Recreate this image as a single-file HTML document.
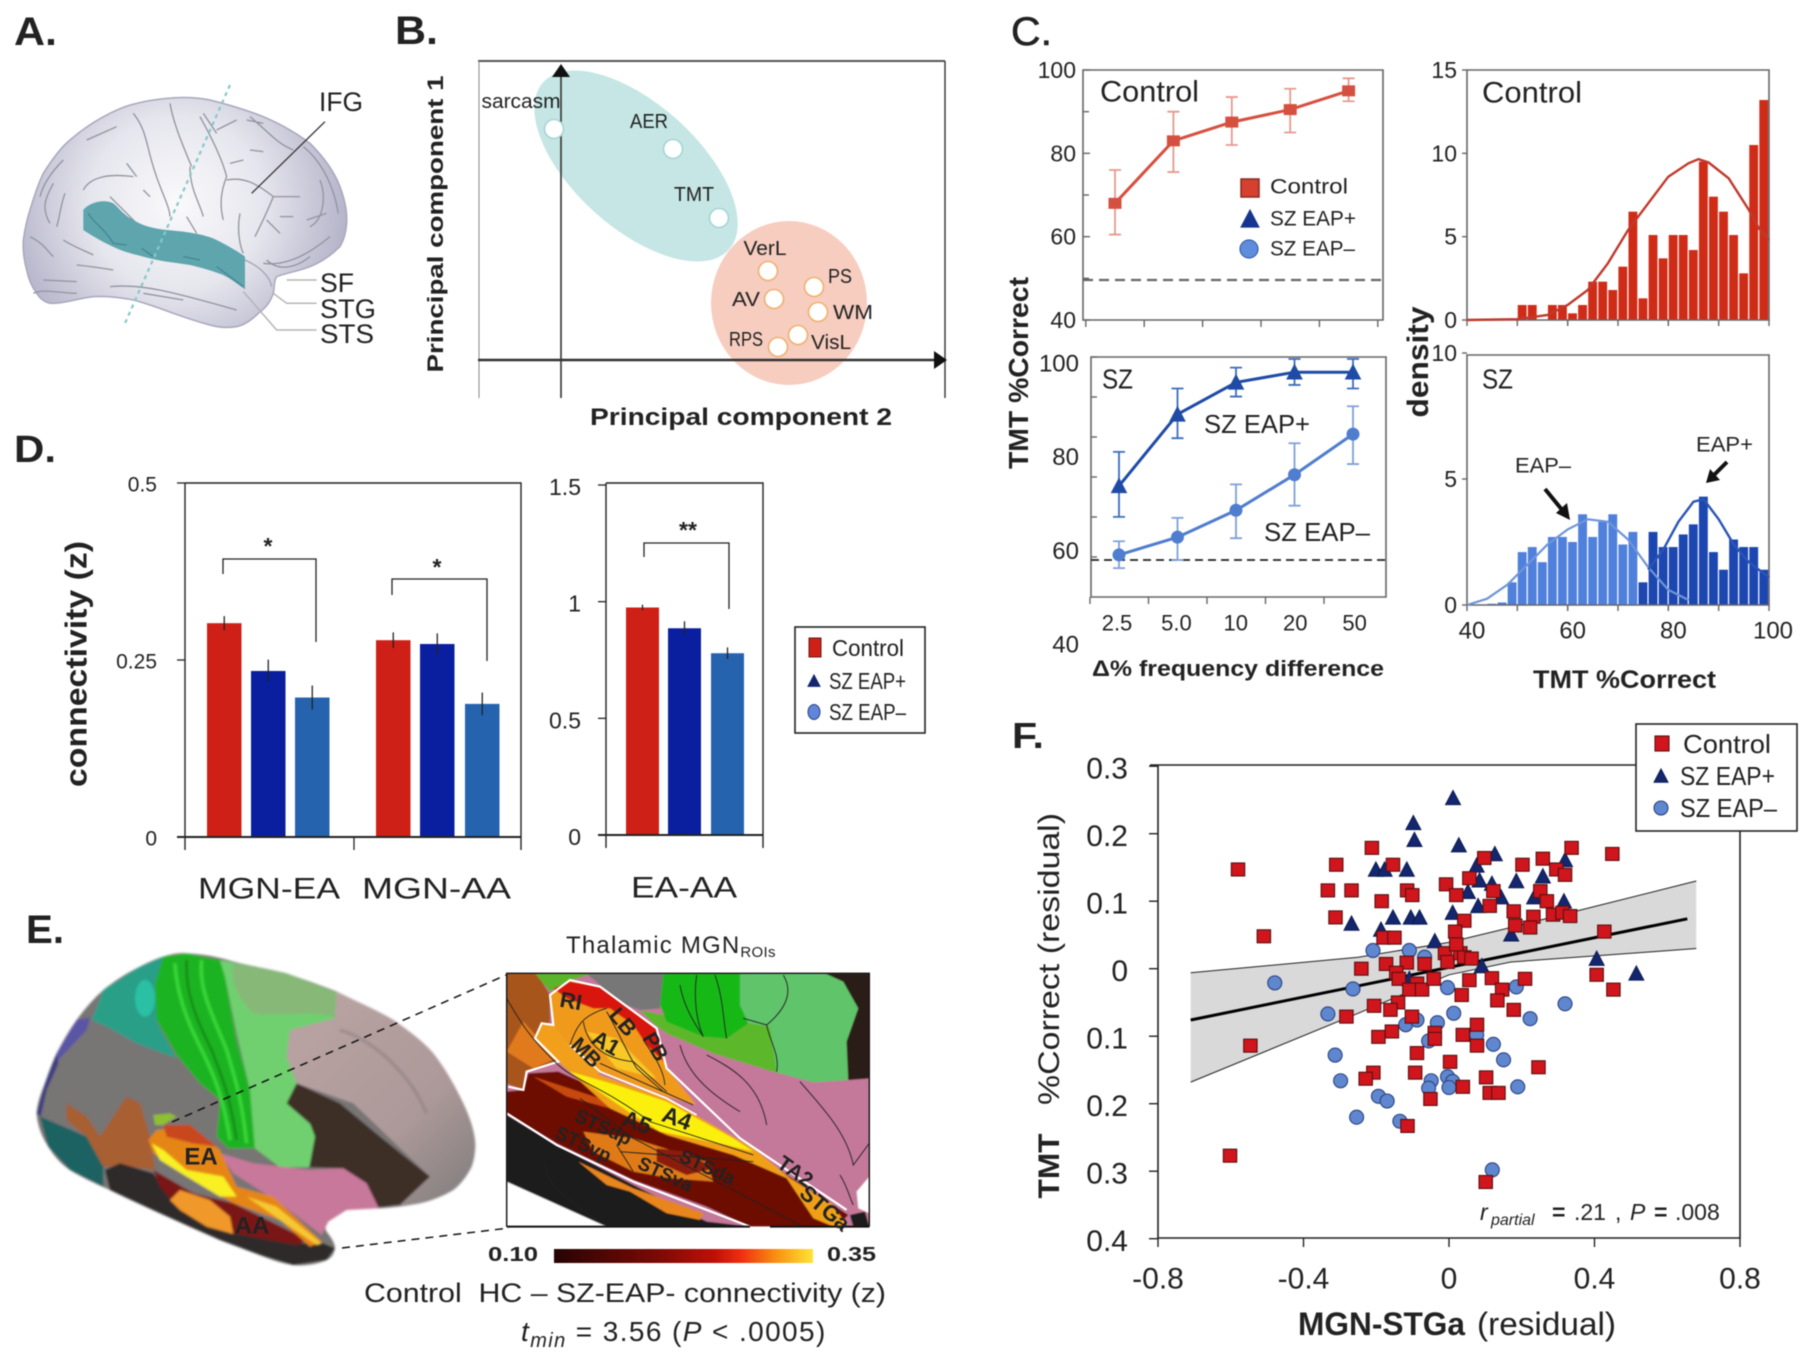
<!DOCTYPE html>
<html>
<head>
<meta charset="utf-8">
<title>Multi-panel figure</title>
<style>
html,body{margin:0;padding:0;background:#fff}
svg{display:block;font-family:"Liberation Sans",sans-serif;filter:blur(.55px)}
.ns{vector-effect:non-scaling-stroke}
text{fill:#222}
</style>
</head>
<body>
<svg id="fig" width="1800" height="1371" viewBox="0 0 1800 1371">
<defs>
<radialGradient id="brainGrad" gradientUnits="userSpaceOnUse" cx="500" cy="370" r="520">
<stop offset="0" stop-color="#fafafc"/><stop offset=".5" stop-color="#e6e6ee"/><stop offset="1" stop-color="#b4b2c8"/>
</radialGradient>
<linearGradient id="cbarGrad" x1="0" x2="1" y1="0" y2="0">
<stop offset="0" stop-color="#260404"/><stop offset=".4" stop-color="#7a0a05"/><stop offset=".62" stop-color="#bf1008"/><stop offset=".72" stop-color="#ef2d10"/><stop offset=".86" stop-color="#f99212"/><stop offset="1" stop-color="#ffe436"/>
</linearGradient>
<linearGradient id="pinkGrey" gradientUnits="userSpaceOnUse" x1="850" y1="250" x2="1350" y2="750">
<stop offset="0" stop-color="#b8a2a2"/><stop offset=".6" stop-color="#ad9999"/><stop offset="1" stop-color="#858080"/>
</linearGradient>
<clipPath id="insetClip"><rect x="20" y="25" width="1088" height="760"/></clipPath>
<filter id="softE" x="-5%" y="-5%" width="110%" height="110%"><feGaussianBlur stdDeviation="3"/></filter>
<filter id="softI" x="-5%" y="-5%" width="110%" height="110%"><feGaussianBlur stdDeviation="1.5"/></filter>
</defs>

<!-- panel letters -->
<text x="14" y="45" font-size="40" font-weight="bold" textLength="43" lengthAdjust="spacingAndGlyphs">A.</text>
<text x="395" y="44" font-size="40" font-weight="bold" textLength="43" lengthAdjust="spacingAndGlyphs">B.</text>
<text x="1011" y="45" font-size="40" textLength="41" lengthAdjust="spacingAndGlyphs" style="font-weight:500;stroke:#222;stroke-width:.6">C.</text>
<text x="14" y="462" font-size="38" font-weight="bold" textLength="42" lengthAdjust="spacingAndGlyphs">D.</text>
<text x="26" y="943" font-size="40" font-weight="bold" textLength="38" lengthAdjust="spacingAndGlyphs">E.</text>
<text x="1012" y="748" font-size="36" font-weight="bold" textLength="32" lengthAdjust="spacingAndGlyphs">F.</text>

<!-- Panel A -->
<g id="panel-a">
<g transform="translate(10,80) scale(.3333)">
<path class="ns" d="M470 55 C520 50 560 52 600 60 C660 75 710 90 760 110 C820 135 860 160 900 190 C945 235 975 280 990 320 C1005 360 1012 400 1010 430 C1008 460 1002 480 990 500 C960 530 930 548 900 560 C860 575 825 580 800 590 C790 605 795 620 790 640 C780 670 765 685 745 700 C725 720 705 735 680 740 C650 745 625 742 600 735 C560 725 525 712 490 700 C450 685 410 670 370 660 C330 652 290 648 250 650 C205 655 160 672 120 670 C100 665 90 655 80 640 C65 620 55 595 50 570 C42 540 38 510 40 480 C45 445 50 420 60 390 C72 350 85 310 100 280 C125 240 150 205 180 180 C220 145 260 120 300 100 C330 85 355 75 380 70 C410 62 440 58 470 55Z" fill="url(#brainGrad)" stroke="#a9a7bc" stroke-width="1.5"/>
<path class="ns" fill="none" stroke="#93939f" stroke-width="1.3" d="M480 70 C490 130 520 200 545 260 M370 100 C410 150 410 200 430 260 C450 330 480 380 480 410 M570 110 C620 200 640 250 650 290 C630 340 630 380 640 420 M220 330 C240 290 300 280 370 290 M350 250 L380 290 M300 350 C340 390 350 400 380 430 M400 330 L420 350 M540 260 C540 330 570 370 580 410 M650 300 C700 290 740 310 790 350 C770 400 750 440 735 470 M790 350 L870 350 M770 420 L810 460 M690 400 C680 450 690 500 700 520 M930 300 C950 350 940 420 900 440 M660 250 L700 240 M720 210 L760 215 M810 410 L850 410 M890 420 L950 400 M720 110 C780 160 800 190 850 210 M710 120 L760 130 M620 150 L680 120 M580 100 L620 160 M320 140 L230 180 M130 310 C110 350 90 380 120 430 M165 340 C150 380 150 410 140 440 M60 470 C100 490 110 510 130 530 M160 480 C190 500 220 510 250 525 M200 555 C250 560 280 565 310 570 M100 600 L200 605 M70 640 C100 625 150 640 200 640 M300 620 C400 610 500 640 680 690 M400 640 L520 660 M770 540 C800 570 850 570 900 530 M760 550 C830 560 900 520 960 470 M880 200 C930 240 970 310 985 400 M90 350 C100 310 130 270 160 240 M530 410 L560 460"/>
<path class="ns" fill="none" stroke="#a3a3b5" stroke-width="1.3" d="M705 540 C750 560 780 590 785 620"/>
<path d="M220 390 C235 370 280 355 310 370 C330 385 340 410 400 435 C440 450 480 450 520 455 C570 462 600 470 620 480 C650 495 685 515 705 530 L705 628 C680 610 660 595 640 585 C600 570 570 562 540 555 C500 548 460 545 420 535 C380 525 350 518 320 505 C285 490 250 470 220 450Z" fill="#5ea5ae"/>
<path class="ns" fill="none" stroke="#3f7f8a" stroke-width="1" d="M235 400 C250 430 280 440 310 490 M310 490 L350 495 M395 505 L430 530 M520 530 L570 540 M620 560 L700 620"/>
<line class="ns" x1="660" y1="15" x2="345" y2="730" stroke="#86c9c9" stroke-width="2.2" stroke-dasharray="4 4"/>
<line class="ns" x1="945" y1="125" x2="725" y2="340" stroke="#333" stroke-width="1.3"/>
<path class="ns" d="M830 600 H920" stroke="#b5b5b5" stroke-width="1.5" fill="none"/>
<path class="ns" d="M790 640 L830 670 H920" stroke="#b5b5b5" stroke-width="1.5" fill="none"/>
<path class="ns" d="M700 635 L800 750 H920" stroke="#b5b5b5" stroke-width="1.5" fill="none"/>
</g>
<text x="319" y="111" font-size="27" textLength="44" lengthAdjust="spacingAndGlyphs">IFG</text>
<text x="320" y="292" font-size="27" textLength="34" lengthAdjust="spacingAndGlyphs">SF</text>
<text x="320" y="318" font-size="27" textLength="56" lengthAdjust="spacingAndGlyphs">STG</text>
<text x="320" y="343" font-size="27" textLength="54" lengthAdjust="spacingAndGlyphs">STS</text>
</g>

<!-- Panel B static -->
<g id="panel-b">
<ellipse cx="636" cy="166" rx="125" ry="62" transform="rotate(42 636 166)" fill="#c5e6e4"/>
<ellipse cx="789" cy="303" rx="78" ry="82" fill="#f6cdbf"/>
<line x1="478" y1="61" x2="945" y2="61" stroke="#555" stroke-width="2"/>
<line x1="479" y1="61" x2="479" y2="398" stroke="#888" stroke-width="1"/>
<line x1="945" y1="61" x2="945" y2="398" stroke="#333" stroke-width="1.4"/>
<line x1="478" y1="360" x2="936" y2="360" stroke="#333" stroke-width="2.4"/>
<polygon points="934,351 947,360 934,369" fill="#111"/>
<line x1="561" y1="72" x2="561" y2="398" stroke="#333" stroke-width="1.6"/>
<polygon points="552,77 561,64 570,77" fill="#111"/>
<text x="443" y="224" font-size="22" font-weight="bold" text-anchor="middle" transform="rotate(-90 443 224)" textLength="297" lengthAdjust="spacingAndGlyphs">Principal component 1</text>
<text x="741" y="425" font-size="24" font-weight="bold" text-anchor="middle" textLength="302" lengthAdjust="spacingAndGlyphs">Principal component 2</text>
</g>

<!-- Panel E -->
<g id="panel-e">
<g transform="translate(20,940) scale(.3333)">
<g filter="url(#softE)">
<path d="M500 40 C550 42 600 52 640 65 C700 80 750 88 800 100 C850 118 900 135 950 155 C1010 185 1070 210 1120 240 C1170 275 1210 305 1240 340 C1275 385 1300 430 1320 470 C1345 520 1360 560 1365 600 C1368 630 1362 660 1355 680 C1340 710 1320 735 1300 750 C1270 768 1235 782 1200 790 C1160 798 1120 803 1080 805 C1045 807 1010 805 980 810 C955 818 935 830 925 845 C915 858 915 868 920 875 C935 895 945 910 945 925 C942 945 932 955 920 960 C885 975 850 978 820 975 C785 970 750 958 720 945 C680 930 640 915 600 900 C540 875 480 848 420 820 C370 798 320 775 270 750 C225 730 185 712 150 690 C120 670 100 645 85 620 C65 590 52 555 50 520 C52 490 62 460 75 430 C85 400 95 370 110 340 C128 305 148 270 170 240 C195 205 222 175 250 150 C282 125 315 102 350 85 C378 70 405 58 430 50 C455 42 480 38 500 40Z" fill="#787474"/>
<path d="M110 340 L170 240 L210 232 L200 270 L110 365Z" fill="#5a55a5"/>
<path d="M50 520 L75 430 L110 340 L115 370 L80 450 L62 530Z" fill="#3e3e80"/>
<path d="M215 240 L250 150 L350 85 L430 50 L405 130 L410 245 L470 355 L350 310 L260 260Z" fill="#2a9f88"/>
<ellipse cx="375" cy="175" rx="30" ry="55" fill="#2cc0a4"/>
<path d="M430 50 L500 40 L600 60 L615 110 L650 300 L690 450 L705 625 L625 625 L590 590 L600 480 L540 430 L470 345 L410 240 L405 130Z" fill="#1fb320"/>
<path class="ns" fill="none" stroke="#38d838" stroke-width="3.5" d="M465 70 C470 160 500 240 540 320 C580 400 610 470 630 600 M545 60 C535 150 580 230 620 330 C650 430 665 480 680 610"/>
<path class="ns" fill="none" stroke="#148a18" stroke-width="2.5" d="M500 60 C495 160 530 240 575 330 C610 420 630 470 650 600"/>
<path d="M600 60 L800 100 L950 158 L945 235 L810 270 L800 350 L830 430 L800 490 L890 570 L870 682 L780 682 L705 625 L690 450 L650 280 L615 110Z" fill="#70d070"/>
<path d="M640 70 L800 100 L950 160 L945 232 C880 210 780 230 700 220 C650 170 630 120 640 70Z" fill="#87b878"/>
<path d="M950 155 C1010 185 1070 210 1120 240 C1170 275 1210 305 1240 340 C1275 385 1300 430 1320 470 C1345 520 1360 560 1365 600 C1368 630 1362 660 1355 680 C1340 710 1320 735 1300 750 C1270 768 1235 782 1190 792 L1110 800 L1230 710 L1000 490 L830 430 L800 350 L810 270 L945 235Z" fill="url(#pinkGrey)"/>
<path class="ns" fill="none" stroke="#8e8080" stroke-width="4" opacity=".5" d="M960 270 C1060 300 1170 400 1220 520"/>
<path d="M600 640 L700 670 L870 690 L970 685 L1040 730 L1080 805 L980 810 L925 845 L905 885 L780 790 L640 700Z" fill="#c8789a"/>
<path d="M830 430 L960 490 L1080 590 L1230 710 L1140 795 L1075 802 L1040 730 L970 685 L868 682 L885 590 L870 550 L800 490Z" fill="#3c2f27"/>
<path d="M60 530 L130 560 L200 590 L250 680 L250 740 L150 690 L85 620Z" fill="#1f6262"/>
<path d="M140 490 L200 530 L240 590 L320 470 L360 490 L390 590 L405 690 L330 680 L250 680 L200 590 L140 540Z" fill="#a85e33"/>
<path d="M255 690 L300 670 L400 700 L460 790 L640 880 L830 910 L910 910 L945 925 L920 960 L820 975 L720 945 L600 900 L420 820 L270 750Z" fill="#2e2a2c"/>
<path d="M400 690 L520 760 L640 790 L865 900 L830 915 L640 880 L460 790 L420 740Z" fill="#7a1216"/>
<path d="M450 780 L480 750 L570 780 L630 830 L640 882 L560 860 L480 810Z" fill="#f0982a"/>
<path d="M410 570 L510 560 L600 630 L650 740 L760 770 L905 905 L870 920 L780 840 L640 790 L520 720 L400 640 L385 600Z" fill="#e58515"/>
<path d="M430 555 L510 555 L590 620 L520 610 L440 590Z" fill="#c9471a"/>
<path d="M395 610 L430 630 L500 690 L610 710 L650 770 L600 770 L500 710 L420 660Z" fill="#f8f020"/>
<path d="M680 770 L770 800 L905 910 L890 915 L780 840Z" fill="#f5c830"/>
<path d="M400 525 L450 520 L470 530 L430 555 L405 555Z" fill="#8fc030"/>
</g>
</g>
<line x1="172" y1="1122" x2="506" y2="975" stroke="#111" stroke-width="1.5" stroke-dasharray="8 6"/>
<line x1="342" y1="1248" x2="509" y2="1228" stroke="#111" stroke-width="1.5" stroke-dasharray="8 6"/>
<g transform="translate(500,965) scale(.3333)">
<g clip-path="url(#insetClip)">
<g filter="url(#softI)">
<rect x="20" y="25" width="1088" height="760" fill="#c4789a"/>
<path d="M20 25 L110 25 L150 90 L150 170 L105 220 L175 290 L80 320 L70 375 L20 355Z" fill="#a8551f"/>
<path d="M70 170 L170 280 L100 310 L20 260Z" fill="#e07a1c"/>
<path d="M105 25 L285 25 L210 45 L150 80Z" fill="#5ab52a"/>
<path d="M260 25 L490 25 L480 130 L420 135 L350 110 L300 60Z" fill="#777"/>
<path d="M420 135 L490 150 L610 215 L680 220 L745 175 L810 180 L835 325 L640 265 L500 205 L460 175Z" fill="#5cb82a"/>
<path d="M490 25 L730 25 L720 120 L745 175 L680 220 L610 215 L500 170 L480 120Z" fill="#15b815"/>
<path d="M720 25 L1030 25 L1075 130 L1040 230 L1045 345 L940 352 L830 322 L810 185 L745 175 L720 120Z" fill="#5fc46a"/>
<path d="M975 25 L1108 25 L1108 340 L1045 345 L1040 230 L1075 130 L1030 50Z" fill="#2a1e18"/>
<path d="M1108 635 L1070 680 L1075 730 L1108 745Z" fill="#fff"/>
<path d="M1050 750 L1095 740 L1108 785 L1060 785Z" fill="#1f1a1a"/>
<path d="M20 650 L320 785 L20 785Z" fill="#fff"/>
<path d="M20 450 L170 540 L400 660 L620 770 L750 785 L320 785 L20 650Z" fill="#1f1f1f"/>
<path d="M20 380 L70 375 L85 325 L175 320 L400 420 L800 590 L1045 750 L1010 785 L750 785 L620 725 L400 645 L170 535 L20 445Z" fill="#6c0a06"/>
<path d="M235 590 L400 670 L610 745 L600 765 L500 745 L390 680 L320 660Z" fill="#e8851e"/>
<path d="M250 500 L400 520 L620 590 L640 650 L510 640 L400 620 L280 560Z" fill="#e07a18"/>
<path d="M470 550 L560 560 L640 610 L560 630 L470 590Z" fill="#8a1a0a"/>
<path d="M100 335 L300 400 L330 430 L200 395Z" fill="#c84a10"/>
<path d="M175 290 L300 330 L500 400 L760 550 L870 640 L1000 720 L1040 780 L1000 785 L940 760 L860 640 L700 570 L500 510 L330 430Z" fill="#f0a018"/>
<path d="M210 320 L350 360 L500 410 L700 520 L760 560 L680 540 L480 500 L400 450Z" fill="#fbf00c"/>
<path d="M150 90 L210 45 L300 65 L470 190 L500 310 L590 420 L500 395 L300 320 L210 240 L160 180Z" fill="#f09a1c"/>
<path d="M160 70 L210 50 L300 65 L470 190 L490 290 L440 240 L400 180 L330 130 L280 130 L200 100Z" fill="#d8120c"/>
<path d="M260 200 L350 220 L470 340 L350 310Z" fill="#f8c828"/>
<path d="M105 220 L125 175 L160 180 L210 240 L300 320 L280 340 L175 290Z" fill="#f2a01c"/>
</g>
<path class="ns" fill="none" stroke="#fff" stroke-width="2.2" d="M25 365 L70 375 L80 320 L175 290 L105 220 L125 175 L160 180 L150 90 L210 45 L300 65 L470 190 L500 310 L720 520 L1040 735"/>
<path class="ns" fill="none" stroke="#fff" stroke-width="1.8" d="M210 240 L300 320 L500 400 L590 450"/>
<path class="ns" fill="none" stroke="#fff" stroke-width="2.2" d="M20 445 L170 540 L400 650 L750 785"/>
<path class="ns" fill="none" stroke="#222" stroke-width=".9" d="M20 100 C60 170 90 220 175 300 C230 350 300 360 450 470 L760 570 M210 240 C230 180 250 150 320 130 M250 170 C260 230 300 280 400 290 L500 380 M320 140 C350 190 380 260 410 310 L490 380 M430 225 C460 270 490 310 495 360 M300 295 L490 380 L580 420 M540 240 C560 320 620 380 720 440 M620 270 C700 310 780 360 800 480 M900 350 C960 420 1040 500 1060 600 L1108 535 M1020 630 C1040 660 1050 700 1060 720 M540 60 C550 120 580 170 610 215 M590 30 C580 100 590 170 610 215 M645 30 C670 100 670 170 680 220 M730 160 L800 180 C860 130 880 80 850 30 M800 180 C810 230 840 270 830 320 M350 540 L400 620 M360 560 L760 590 M240 400 L400 520 L900 780 M130 590 C150 640 130 660 300 770"/>
</g>
<path class="ns" fill="none" stroke="#111" stroke-width="1.4" d="M20 785 V25 H1108 V785"/>
<path class="ns" fill="none" stroke="#111" stroke-width="2" d="M20 785 H750 M810 785 H1108"/>
</g>
<g font-size="19" style="font-weight:600">
<text x="571" y="1001" text-anchor="middle" dominant-baseline="central" font-size="22" transform="rotate(10 571 1001)">RI</text>
<text x="623" y="1022" text-anchor="middle" dominant-baseline="central" font-size="22" transform="rotate(50 623 1022)">LB</text>
<text x="606" y="1043" text-anchor="middle" dominant-baseline="central" font-size="22" transform="rotate(30 606 1043)">A1</text>
<text x="586" y="1053" text-anchor="middle" dominant-baseline="central" font-size="21" transform="rotate(45 586 1053)">MB</text>
<text x="655" y="1047" text-anchor="middle" dominant-baseline="central" font-size="21" transform="rotate(60 655 1047)">PB</text>
<text x="677" y="1118" text-anchor="middle" dominant-baseline="central" font-size="23" transform="rotate(20 677 1118)">A4</text>
<text x="637" y="1122" text-anchor="middle" dominant-baseline="central" font-size="23" transform="rotate(20 637 1122)">A5</text>
<text x="603" y="1128" text-anchor="middle" dominant-baseline="central" transform="rotate(25 603 1128)">STSdp</text>
<text x="583" y="1145" text-anchor="middle" dominant-baseline="central" transform="rotate(25 583 1145)">STSvp</text>
<text x="707" y="1168" text-anchor="middle" dominant-baseline="central" transform="rotate(25 707 1168)">STSda</text>
<text x="665" y="1175" text-anchor="middle" dominant-baseline="central" transform="rotate(25 665 1175)">STSva</text>
<text x="795" y="1172" text-anchor="middle" dominant-baseline="central" font-size="21" transform="rotate(35 795 1172)">TA2</text>
<text x="825" y="1208" text-anchor="middle" dominant-baseline="central" font-size="22" transform="rotate(40 825 1208)">STGa</text>
</g>
<text x="201" y="1157" font-size="24" text-anchor="middle" dominant-baseline="central" style="font-weight:600">EA</text>
<text x="252" y="1226" font-size="24" text-anchor="middle" dominant-baseline="central" style="font-weight:600">AA</text>
<text x="566" y="953" font-size="24" fill="#333" letter-spacing="1.2">Thalamic MGN<tspan font-size="15" dy="4" letter-spacing=".3">ROIs</tspan></text>
<rect x="554" y="1249" width="259" height="14" fill="url(#cbarGrad)"/>
<text x="488" y="1261" font-size="20" font-weight="bold" textLength="50" lengthAdjust="spacingAndGlyphs">0.10</text>
<text x="827" y="1261" font-size="20" font-weight="bold" textLength="49" lengthAdjust="spacingAndGlyphs">0.35</text>
<text x="364" y="1302" font-size="27" fill="#333" textLength="522" lengthAdjust="spacingAndGlyphs">Control&#160;&#160;HC – SZ-EAP- connectivity (z)</text>
<text x="521" y="1341" font-size="28" fill="#222" letter-spacing="1.4"><tspan font-style="italic">t</tspan><tspan font-size="20" dy="6" font-style="italic">min</tspan><tspan dy="-6"> = 3.56 (</tspan><tspan font-style="italic">P</tspan><tspan> &lt; .0005)</tspan></text>
</g>

<!-- Panel C static text -->
<g id="panel-c">
<text x="1028" y="373" font-size="28" font-weight="bold" text-anchor="middle" transform="rotate(-90 1028 373)" textLength="192" lengthAdjust="spacingAndGlyphs">TMT %Correct</text>
<text x="1428" y="362" font-size="30" font-weight="bold" text-anchor="middle" transform="rotate(-90 1428 362)" textLength="111" lengthAdjust="spacingAndGlyphs">density</text>
<text x="1092" y="676" font-size="22" font-weight="bold" textLength="292" lengthAdjust="spacingAndGlyphs" fill="#333">Δ% frequency difference</text>
<text x="1533" y="688" font-size="25" font-weight="bold" textLength="183" lengthAdjust="spacingAndGlyphs" fill="#333">TMT %Correct</text>
</g>
<g id="c-line-top"></g>
<g id="c-line-bottom"></g>
<g id="c-hist-top"></g>
<g id="c-hist-bottom"></g>
<g id="b-points"></g>
<g id="d-chart"></g>
<g id="f-chart"></g>

<!-- Panel F static titles -->
<g>
<text x="1059" y="1166" font-size="30" font-weight="bold" text-anchor="middle" fill="#222" transform="rotate(-90 1059 1166)" textLength="65" lengthAdjust="spacingAndGlyphs">TMT</text>
<text x="1059" y="959" font-size="30" text-anchor="middle" fill="#333" transform="rotate(-90 1059 959)" textLength="292" lengthAdjust="spacingAndGlyphs">%Correct (residual)</text>
<text x="1298" y="1335" font-size="32" font-weight="bold" fill="#222" textLength="167" lengthAdjust="spacingAndGlyphs">MGN-STGa</text>
<text x="1477" y="1335" font-size="32" fill="#333" textLength="139" lengthAdjust="spacingAndGlyphs">(residual)</text>
<text y="1220" font-size="23" fill="#333"><tspan x="1480" font-style="italic">r</tspan><tspan x="1491" y="1225" font-size="16" font-style="italic">partial</tspan><tspan x="1552" y="1220" font-weight="bold">=</tspan><tspan x="1574">.21</tspan><tspan x="1615">,</tspan><tspan x="1630" font-style="italic">P</tspan><tspan x="1654" font-weight="bold">=</tspan><tspan x="1675">.008</tspan></text>
</g>

<script>
/* ---------- Panel B data ---------- */
const pcaTasks=['sarcasm','AER','TMT','VerL','PS','AV','WM','VisL','RPS'];
const pcaComp2=[-0.07,1.12,1.58,2.07,2.53,2.13,2.57,2.37,2.17];
const pcaComp1=[2.31,2.11,1.42,0.89,0.73,0.61,0.48,0.25,0.13];
const pcaGroup=['a','a','a','g','g','g','g','g','g'];

/* ---------- Panel C data ---------- */
const freqCategories=['2.5','5.0','10','20','50'];
const controlAcc=[68,83,87.5,90.5,95];
const controlLow=[60.5,75.5,82,85,92.5];
const controlHigh=[76,90,93.5,95.5,98];
const eapPlusAcc=[74.6,88.7,95,97,97];
const eapPlusLow=[68.5,84,92.2,94.5,93.8];
const eapPlusHigh=[81.3,93.8,97.9,99.6,99.6];
const eapMinusAcc=[61,64.5,69.8,76.8,84.8];
const eapMinusLow=[58.4,60,64.3,70.7,78.9];
const eapMinusHigh=[63.7,68.3,74.9,83,90.3];
const topLineTicks=[40,60,80,100];
const topLineMinorTicks=[50,70,90];
const bottomLineTicks=[40,60,80,100];

const controlBinStart=[50,52,54,56,58,60,62,64,66,68,70,72,74,76,78,80,82,84,86,88,90,92,94,96,98];
const controlDensity=[0.9,0.9,0,0.9,0.9,0.4,0.9,2.3,2.3,1.8,3.2,6.5,1.3,5.1,3.7,5.1,5.1,4.2,9.5,7.4,6.5,5.1,2.8,10.5,13.2];
const controlCurveX=[40,50,56,60,64,68,72,76,80,84,86,88,92,96,98,100];
const controlCurveY=[0,0.05,0.3,0.9,1.8,3.4,5.4,7,8.6,9.4,9.65,9.45,8.5,6.6,5.5,4.8];
const minusBinStart=[44,46,48,50,52,54,56,58,60,62,64,66,68,70,72];
const minusDensity=[0.05,0.1,0.9,2.1,2.3,1.7,2.7,2.7,2.5,3.6,2.7,3.3,3.6,2.4,2.9];
const plusBinStart=[74,76,78,80,82,84,86,88,90,92,94,96,98];
const plusDensity=[0.9,2.9,2.3,2.3,2.8,3.2,4.3,2.1,1.4,2.6,2.3,2.3,1.4];
const minusCurveX=[40,44,48,52,56,60,64,68,72,76,80,84];
const minusCurveY=[0,0.25,0.8,1.6,2.4,3,3.4,3.3,2.6,1.5,0.6,0.2];
const plusCurveX=[76,79,82,85,87,90,93,96,100];
const plusCurveY=[1.4,2.2,3.3,4.1,4.2,3.4,2.4,1.7,1.1];
const densityTicksTop=[0,5,10,15];
const densityTicksBottom=[0,5,10];
const scoreTicks=[40,60,80,100];

/* ---------- Panel D data ---------- */
const connGroups=['MGN-EA','MGN-AA'];
const connControl=[0.302,0.278];
const connPlus=[0.2345,0.2726];
const connMinus=[0.197,0.188];
const connControlErr=[0.01,0.011];
const connPlusErr=[0.016,0.015];
const connMinusErr=[0.017,0.016];
const connTicks=[{v:0,t:'0'},{v:0.25,t:'0.25'},{v:0.5,t:'0.5'}];
const eaAaValues=[0.975,0.886,0.779];
const eaAaErr=[0.012,0.03,0.025];
const eaAaTicks=[{v:0,t:'0'},{v:0.5,t:'0.5'},{v:1,t:'1'},{v:1.5,t:'1.5'}];

/* ---------- Panel F data ---------- */
const ctrlX=[-.58,-.31,-.212,-.154,-.333,-.268,-.115,-.101,-.185,-.312,-.509,-.18,-.15,-.173,-.241,-.116,-.145,-.067,-.138,-.088,-.109,-.074,-.042,-.011,-.004,.031,.042,.062,-.008,.02,.056,.097,.122,.112,.178,.202,.258,.295,.319,.337,.449,.251,.269,.286,.312,.333,.232,.223,.182,.042,.017,.02,.427,.406,.452,.209,.118,.146,.133,.178,.056,.035,-.102,-.14,-.161,-.206,-.282,-.194,-.157,-.039,.038,.077,.077,-.088,.003,-.093,-.208,-.229,.038,.102,.112,.136,.246,-.051,-.114,-.602,.101,-.546,-.039];
const ctrlY=[.147,.154,.179,.154,.116,.116,.116,.109,.1,.076,.048,.046,.046,.007,0,.009,-.006,.007,-.015,-.022,-.031,-.031,-.015,.023,.01,.023,.017,.015,.125,.109,.134,.164,.115,.093,.085,.154,.163,.147,.139,.179,.17,.115,.1,.08,.083,.078,.077,.061,.064,.071,.055,.036,.055,-.009,-.031,-.015,-.014,-.031,-.047,-.061,-.017,-.039,-.071,-.05,-.061,-.055,-.071,-.101,-.093,-.095,-.098,-.083,-.114,-.125,-.138,-.154,-.154,-.163,-.175,-.161,-.184,-.184,-.146,-.193,-.233,-.277,-.316,-.114,-.104];
const plusX=[.011,-.098,-.095,.027,.126,-.201,-.177,-.116,.076,.319,.258,.084,.185,.052,.118,.143,.234,.316,.08,.01,-.154,-.105,-.081,-.268,-.187,.171,-.039,.406,.515,.09,-.109];
const plusY=[.253,.216,.191,.183,.17,.147,.147,.147,.153,.161,.137,.131,.13,.114,.126,.106,.106,.1,.093,.083,.076,.076,.076,.067,.058,.051,.041,.015,-.007,.004,-.015];
const minusX=[-.479,-.264,-.333,-.209,-.109,-.067,-.004,.013,.185,.319,.223,-.119,-.088,-.032,-.056,.076,.122,.15,-.313,-.298,-.049,-.056,-.004,.01,0,.189,-.194,-.17,-.254,-.135,.119];
const minusY=[-.021,-.03,-.067,.027,.027,.017,-.028,-.066,-.027,-.052,-.074,-.083,-.076,-.08,-.107,-.098,-.112,-.135,-.128,-.166,-.166,-.177,-.16,-.167,-.176,-.175,-.189,-.196,-.22,-.226,-.298];
const fitX=[-.71,.655];
const fitY=[-.076,.074];
const bandX=[-.71,-.25,0,.17,.68];
const bandUpper=[-.006,.017,.039,.061,.13];
const bandLower=[-.168,-.066,-.009,.01,.03];
const fXTicks=[{v:-.8,t:'-0.8'},{v:-.4,t:'-0.4'},{v:0,t:'0'},{v:.4,t:'0.4'},{v:.8,t:'0.8'}];
const fYTicks=[{v:.3,t:'0.3'},{v:.2,t:'0.2'},{v:.1,t:'0.1'},{v:0,t:'0'},{v:-.1,t:'0.1'},{v:-.2,t:'0.2'},{v:-.3,t:'0.3'},{v:-.4,t:'0.4'}];

/* ---------- helpers ---------- */
const NS=document.getElementById('fig').namespaceURI;
function mk(tag,attrs,parent){
  const el=document.createElementNS(NS,tag);
  for(const k in attrs) el.setAttribute(k,attrs[k]);
  parent.appendChild(el);
  return el;
}
function tx(parent,x,y,str,size,anchor,extra){
  const el=mk('text',Object.assign({x:x,y:y,'font-size':size,'text-anchor':anchor||'start','dominant-baseline':'central'},extra||{}),parent);
  el.textContent=str;
  return el;
}
const linear=(d0,d1,r0,r1)=>v=>r0+(v-d0)/(d1-d0)*(r1-r0);
function errorBar(parent,x,yLow,yHigh,cap,color,w){
  const p=mk('path',{d:`M${x-cap} ${yLow}H${x+cap}M${x} ${yLow}V${yHigh}M${x-cap} ${yHigh}H${x+cap}`,fill:'none',stroke:color,'stroke-width':w},parent);
  return p;
}
function polyPath(xs,ys,sx,sy){
  return xs.map((v,i)=>(i?'L':'M')+sx(v).toFixed(1)+' '+sy(ys[i]).toFixed(1)).join('');
}
function triangle(parent,x,y,s,fill,stroke){
  return mk('polygon',{points:`${x-s},${y+s*.9} ${x},${y-s} ${x+s},${y+s*.9}`,fill:fill,stroke:stroke,'stroke-width':1},parent);
}

/* ---------- Panel B ---------- */
(function(){
  const g=document.getElementById('b-points');
  const px=linear(0,1,561,661), py=linear(0,1,360,260);
  pcaTasks.forEach((name,i)=>{
    const c=mk('circle',{cx:px(pcaComp2[i]),cy:py(pcaComp1[i]),r:9.5,fill:'#fff',stroke:pcaGroup[i]==='a'?'#a5d5d3':'#f0b070','stroke-width':1.6},g);
    
    
  });
  const labelOffsetX=[-33,-24,-25,-3,26,-28,35,33,-32];
  const labelOffsetY=[-27,-27,-23,-22,-10,1,1,8,-7];
  const labelWidths=[79,38,40,43,24,28,40,40,34];
  pcaTasks.forEach((name,i)=>{
    const t=tx(g,px(pcaComp2[i])+labelOffsetX[i],py(pcaComp1[i])+labelOffsetY[i],name,20,'middle',{fill:'#555',textLength:labelWidths[i],lengthAdjust:'spacingAndGlyphs'});
    
    
  });
})();

/* ---------- Panel C line charts ---------- */
function lineSeries(g,xf,yf,vals,lo,hi,color,errColor,marker){
  vals.forEach((v,i)=>{
    const e=errorBar(g,xf(i),yf(lo[i]),yf(hi[i]),6,errColor,1.8);
    
    
  });
  const line=mk('path',{d:vals.map((v,i)=>(i?'L':'M')+xf(i).toFixed(1)+' '+yf(v).toFixed(1)).join(''),fill:'none',stroke:color,'stroke-width':3},g);
  
  
  vals.forEach((v,i)=>{
    let m;
    if(marker==='square') m=mk('rect',{x:xf(i)-6.5,y:yf(v)-5.5,width:13,height:11,fill:color},g);
    else if(marker==='triangle') m=triangle(g,xf(i),yf(v),7.5,color,color);
    else m=mk('circle',{cx:xf(i),cy:yf(v),r:6.5,fill:color},g);
    
    
  });
}
(function(){
  const g=document.getElementById('c-line-top');
  const xf=i=>1115+i*58.4, yf=linear(40,100,320,70);
  const box=mk('path',{d:'M1083 70H1383V320H1083Z',fill:'none',stroke:'#666','stroke-width':1.6},g);
  
  
  const dash=mk('line',{x1:1083,x2:1383,y1:yf(49.6),y2:yf(49.6),stroke:'#666','stroke-width':2.2,'stroke-dasharray':'10 6'},g);
  
  
  topLineTicks.forEach(v=>{
    const t=tx(g,1076,yf(v),String(v),23,'end',{fill:'#333'});
    
    
    const k=mk('line',{x1:1083,x2:1090,y1:yf(v),y2:yf(v),stroke:'#666','stroke-width':1.4},g);
    
    
  });
  topLineMinorTicks.forEach(v=>{
    const k=mk('line',{x1:1083,x2:1089,y1:yf(v),y2:yf(v),stroke:'#666','stroke-width':1.4},g);
    
    
  });
  freqCategories.concat(['']).forEach((c,i)=>{
    const x=xf(i)-29.2;
    const k=mk('line',{x1:x,x2:x,y1:320,y2:327,stroke:'#666','stroke-width':1.4},g);
    
    
  });
  lineSeries(g,xf,yf,controlAcc,controlLow,controlHigh,'#d6503f','#e39a8e','square');
  const title=tx(g,1100,92,'Control',30,'start',{textLength:99,lengthAdjust:'spacingAndGlyphs',fill:'#333'});
  
  
  const s=mk('rect',{x:1241,y:179,width:18,height:18,fill:'#d6402f',stroke:'#8a2a20','stroke-width':1.5},g);
  
  
  const t2=triangle(g,1250,219,9,'#17358e','#17358e');
  
  
  const c3=mk('circle',{cx:1249,cy:249,r:9,fill:'#5f8ddd',stroke:'#3a5ea8','stroke-width':1.2},g);
  
  
  const l1=tx(g,1270,187,'Control',21,'start',{textLength:78,lengthAdjust:'spacingAndGlyphs',fill:'#333'});
  
  
  const l2=tx(g,1270,219,'SZ EAP+',21,'start',{textLength:86,lengthAdjust:'spacingAndGlyphs',fill:'#333'});
  
  
  const l3=tx(g,1270,249,'SZ EAP–',21,'start',{textLength:85,lengthAdjust:'spacingAndGlyphs',fill:'#333'});
  
  
})();
(function(){
  const g=document.getElementById('c-line-bottom');
  const xf=i=>1119+i*58.5, yf=linear(60,100,560,357);
  const labelY=linear(40,100,645,364);
  const box=mk('path',{d:'M1091 357H1386V597H1091Z',fill:'none',stroke:'#666','stroke-width':1.6},g);
  
  
  const dash=mk('line',{x1:1091,x2:1388,y1:yf(60),y2:yf(60),stroke:'#222','stroke-width':1.8,'stroke-dasharray':'8 5'},g);
  
  
  bottomLineTicks.forEach(v=>{
    const t=tx(g,1079,labelY(v),String(v),24,'end',{fill:'#333'});
    
    
  });
  [0,1,2,3,4,5].forEach(i=>{
    const k=mk('line',{x1:1091,x2:1097,y1:357+i*40,y2:357+i*40,stroke:'#666','stroke-width':1.4},g);
    
    
  });
  freqCategories.forEach((c,i)=>{
    const t=tx(g,xf(i)-2+i*.9,623,c,22,'middle',{fill:'#333'});
    
    
    const k=mk('line',{x1:xf(i)-29,x2:xf(i)-29,y1:597,y2:604,stroke:'#666','stroke-width':1.4},g);
    
    
  });
  lineSeries(g,xf,yf,eapMinusAcc,eapMinusLow,eapMinusHigh,'#4f7dcf','#7fa0d8','circle');
  lineSeries(g,xf,yf,eapPlusAcc,eapPlusLow,eapPlusHigh,'#1f4ba5','#3d6cbd','triangle');
  const a=tx(g,1102,379,'SZ',28,'start',{textLength:31,lengthAdjust:'spacingAndGlyphs',fill:'#333'});
  
  
  const b=tx(g,1204,424,'SZ EAP+',26,'start',{textLength:106,lengthAdjust:'spacingAndGlyphs',fill:'#333'});
  
  
  const c=tx(g,1264,532,'SZ EAP–',26,'start',{textLength:106,lengthAdjust:'spacingAndGlyphs',fill:'#333'});
  
  
})();

/* ---------- Panel C histograms ---------- */
function bars(g,starts,vals,xf,yf,color){
  starts.forEach((s,i)=>{
    const b=mk('rect',{x:xf(s)+.4,y:yf(vals[i]),width:xf(s+2)-xf(s)-1.2,height:yf(0)-yf(vals[i]),fill:color},g);
    
    
  });
}
function histFrame(g,x0,y0,y1,ticks,yf,xf){
  const box=mk('path',{d:`M${x0} ${y0}H1769V${y1}H${x0}Z`,fill:'none',stroke:'#666','stroke-width':1.6},g);
  
  
  ticks.forEach(v=>{
    const t=tx(g,1457,yf(v),String(v),23,'end',{fill:'#333'});
    
    
    const m=mk('line',{x1:x0-5,x2:x0,y1:yf(v),y2:yf(v),stroke:'#666','stroke-width':1.4},g);
    
    
  });
  scoreTicks.concat([50,60,70,80,90]).forEach(v=>{
    const k=mk('line',{x1:xf(v),x2:xf(v),y1:y1,y2:y1+6,stroke:'#666','stroke-width':1.4},g);
    
    
  });
}
(function(){
  const g=document.getElementById('c-hist-top');
  const xf=linear(40,100,1467,1769), yf=linear(0,15,320,70);
  bars(g,controlBinStart,controlDensity,xf,yf,'#cf2c18');
  histFrame(g,1467,70,320,densityTicksTop,yf,xf);
  const c=mk('path',{d:polyPath(controlCurveX,controlCurveY,xf,yf),fill:'none',stroke:'#c0392b','stroke-width':2.4},g);
  
  
  const t=tx(g,1482,93,'Control',30,'start',{textLength:100,lengthAdjust:'spacingAndGlyphs',fill:'#333'});
  
  
})();
(function(){
  const g=document.getElementById('c-hist-bottom');
  const xf=linear(40,100,1467,1769), yf=linear(0,10,605,353);
  bars(g,minusBinStart,minusDensity,xf,yf,'#4f80dc');
  bars(g,plusBinStart,plusDensity,xf,yf,'#1c46b0');
  histFrame(g,1467,355,605,densityTicksBottom,yf,xf);
  const c1=mk('path',{d:polyPath(minusCurveX,minusCurveY,xf,yf),fill:'none',stroke:'#6f95d8','stroke-width':2.2},g);
  
  
  const c2=mk('path',{d:polyPath(plusCurveX,plusCurveY,xf,yf),fill:'none',stroke:'#2a55b5','stroke-width':2.4},g);
  
  
  scoreTicks.forEach(v=>{
    const t=tx(g,xf(v)+(v===100?4:5),631,String(v),24,'middle',{fill:'#333'});
    
    
  });
  const a=tx(g,1482,379,'SZ',28,'start',{textLength:31,lengthAdjust:'spacingAndGlyphs',fill:'#333'});
  
  
  const b=tx(g,1515,466,'EAP–',21,'start',{textLength:56,lengthAdjust:'spacingAndGlyphs',fill:'#333'});
  
  
  const c=tx(g,1696,445,'EAP+',21,'start',{textLength:57,lengthAdjust:'spacingAndGlyphs',fill:'#333'});
  
  
  const ar1=mk('path',{d:'M1545 489L1563 511',stroke:'#111','stroke-width':4,fill:'none'},g);
  
  
  const ah1=mk('polygon',{points:'1570,520 1556,513 1567,503',fill:'#111'},g);
  
  
  const ar2=mk('path',{d:'M1727 462L1713 476',stroke:'#111','stroke-width':4,fill:'none'},g);
  
  
  const ah2=mk('polygon',{points:'1706,483 1710,469 1720,480',fill:'#111'},g);
  
  
})();

/* ---------- Panel D ---------- */
(function(){
  const g=document.getElementById('d-chart');
  const yL=linear(0,.5,837,483), yR=linear(0,1.5,835,485);
  const colors=['#cf2018','#0a1fa0','#2563ae'];
  const frameL=mk('path',{d:'M185 483H521V850M185 483V850',fill:'none',stroke:'#222','stroke-width':1.4},g);
  
  
  const frameR=mk('path',{d:'M606 483H763V848M606 483V848',fill:'none',stroke:'#222','stroke-width':1.4},g);
  
  
  const barX=[[207,251,295],[376,420,465]];
  const barW=34.5;
  const leftSeries=[connControl,connPlus,connMinus], leftErr=[connControlErr,connPlusErr,connMinusErr];
  connGroups.forEach((name,gi)=>{
    leftSeries.forEach((series,si)=>{
      const v=series[gi], x=barX[gi][si];
      const b=mk('rect',{x:x,y:yL(v),width:barW,height:yL(0)-yL(v),fill:colors[si]},g);
      
      
      const e=mk('line',{x1:x+barW/2,x2:x+barW/2,y1:yL(v-leftErr[si][gi]),y2:yL(v+leftErr[si][gi]),stroke:'#222','stroke-width':1.3},g);
      
      
    });
  });
  const rightX=[626,668,711];
  eaAaValues.forEach((v,i)=>{
    const b=mk('rect',{x:rightX[i],y:yR(v),width:33,height:yR(0)-yR(v),fill:colors[i]},g);
    
    
    const e=mk('line',{x1:rightX[i]+16.5,x2:rightX[i]+16.5,y1:yR(v-eaAaErr[i]),y2:yR(v+eaAaErr[i]),stroke:'#222','stroke-width':1.3},g);
    
    
  });
  const baseL=mk('line',{x1:177,x2:521,y1:837,y2:837,stroke:'#222','stroke-width':2},g);
  
  
  const baseR=mk('line',{x1:598,x2:763,y1:835,y2:835,stroke:'#222','stroke-width':2},g);
  
  
  const mid=mk('line',{x1:354,x2:354,y1:837,y2:850,stroke:'#222','stroke-width':1.3},g);
  
  
  connTicks.forEach(o=>{
    const t=tx(g,157,yL(o.v)+2,o.t,21,'end',{fill:'#333'});
    
    
    const k=mk('line',{x1:177,x2:185,y1:yL(o.v),y2:yL(o.v),stroke:'#222','stroke-width':1.3},g);
    
    
  });
  eaAaTicks.forEach(o=>{
    const t=tx(g,581,yR(o.v)+2,o.t,23,'end',{fill:'#333'});
    
    
    const k=mk('line',{x1:598,x2:606,y1:yR(o.v),y2:yR(o.v),stroke:'#222','stroke-width':1.3},g);
    
    
  });
  const br1=mk('path',{d:'M223 574V559H316V642',fill:'none',stroke:'#222','stroke-width':1.3},g);
  
  
  const br2=mk('path',{d:'M392 595V579H487V661',fill:'none',stroke:'#222','stroke-width':1.3},g);
  
  
  const br3=mk('path',{d:'M644 557V543H729V609',fill:'none',stroke:'#222','stroke-width':1.3},g);
  
  
  const s1=tx(g,268,546,'*',23,'middle',{'font-weight':'bold'});
  
  
  const s2=tx(g,437,567,'*',23,'middle',{'font-weight':'bold'});
  
  
  const s3=tx(g,688,530,'**',23,'middle',{'font-weight':'bold'});
  
  
  const yt=tx(g,76,664,'connectivity (z)',31,'middle',{transform:'rotate(-90 76 664)',textLength:246,lengthAdjust:'spacingAndGlyphs','font-weight':'bold',fill:'#222'});
  
  
  const c1=tx(g,198,889,'MGN-EA',30,'start',{textLength:142,lengthAdjust:'spacingAndGlyphs',fill:'#333'});
  
  
  const c2=tx(g,362,889,'MGN-AA',30,'start',{textLength:149,lengthAdjust:'spacingAndGlyphs',fill:'#333'});
  
  
  const c3=tx(g,631,888,'EA-AA',30,'start',{textLength:106,lengthAdjust:'spacingAndGlyphs',fill:'#333'});
  
  
  const lb=mk('rect',{x:795,y:627,width:130,height:106,fill:'#fff',stroke:'#222','stroke-width':1.6},g);
  
  
  const ls=mk('rect',{x:809,y:638,width:12,height:19,fill:'#cf2018',stroke:'#6a1a14','stroke-width':1},g);
  
  
  const lt=triangle(g,814,681,6,'#13266e','#13266e');
  
  
  const lc=mk('ellipse',{cx:814,cy:712,rx:6,ry:7.5,fill:'#5f86dc',stroke:'#2a4080','stroke-width':1},g);
  
  
  const l1=tx(g,832,648,'Control',23,'start',{textLength:72,lengthAdjust:'spacingAndGlyphs',fill:'#333'});
  
  
  const l2=tx(g,829,681,'SZ EAP+',23,'start',{textLength:77,lengthAdjust:'spacingAndGlyphs',fill:'#333'});
  
  
  const l3=tx(g,829,712,'SZ EAP–',23,'start',{textLength:77,lengthAdjust:'spacingAndGlyphs',fill:'#333'});
  
  
})();

/* ---------- Panel F ---------- */
(function(){
  const g=document.getElementById('f-chart');
  const xf=linear(-.8,.8,1158,1740), yf=linear(0,.1,968.7,901.2);
  const upper=bandX.map((v,i)=>xf(v).toFixed(1)+','+yf(bandUpper[i]).toFixed(1));
  const lower=bandX.map((v,i)=>xf(v).toFixed(1)+','+yf(bandLower[i]).toFixed(1)).reverse();
  const band=mk('polygon',{points:upper.concat(lower).join(' '),fill:'#d9d9d9'},g);
  
  
  const bu=mk('path',{d:polyPath(bandX,bandUpper,xf,yf),fill:'none',stroke:'#222','stroke-width':1},g);
  
  
  const bl=mk('path',{d:polyPath(bandX,bandLower,xf,yf),fill:'none',stroke:'#222','stroke-width':1},g);
  
  
  const fit=mk('path',{d:polyPath(fitX,fitY,xf,yf),fill:'none',stroke:'#000','stroke-width':3},g);
  
  
  minusX.forEach((v,i)=>{
    const m=mk('circle',{cx:xf(v),cy:yf(minusY[i]),r:7,fill:'#5f87cf',stroke:'#2c4380','stroke-width':1.1},g);
    
    
  });
  plusX.forEach((v,i)=>{
    const m=triangle(g,xf(v),yf(plusY[i]),7.5,'#13266e','#0c1a50');
    
    
  });
  ctrlX.forEach((v,i)=>{
    const m=mk('rect',{x:xf(v)-6.7,y:yf(ctrlY[i])-6.5,width:13.4,height:13,fill:'#d0151c',stroke:'#5a1010','stroke-width':1.1},g);
    
    
  });
  const fr=mk('path',{d:'M1158 765V1238H1740V831M1150 765H1640',fill:'none',stroke:'#222','stroke-width':1.6},g);
  
  
  fYTicks.forEach(o=>{
    const k=mk('line',{x1:1149,x2:1158,y1:yf(o.v),y2:yf(o.v),stroke:'#222','stroke-width':1.4},g);
    
    
    const t=tx(g,1128,yf(o.v)+3,o.t,30,'end',{fill:'#333'});
    
    
  });
  fXTicks.forEach(o=>{
    const k=mk('line',{x1:xf(o.v),x2:xf(o.v),y1:1238,y2:1247,stroke:'#222','stroke-width':1.4},g);
    
    
    const t=tx(g,xf(o.v),1279,o.t,30,'middle',{fill:'#333'});
    
    
  });
  const lb=mk('rect',{x:1636,y:724,width:161,height:107,fill:'#fff',stroke:'#222','stroke-width':1.6},g);
  
  
  const ls=mk('rect',{x:1655,y:736,width:14,height:15,fill:'#d0151c',stroke:'#5a1010','stroke-width':1.1},g);
  
  
  const lt=triangle(g,1661,776,7,'#13266e','#0c1a50');
  
  
  const lc=mk('circle',{cx:1661,cy:808,r:7,fill:'#5f87cf',stroke:'#2c4380','stroke-width':1.1},g);
  
  
  const l1=tx(g,1683,744,'Control',26,'start',{textLength:88,lengthAdjust:'spacingAndGlyphs',fill:'#333'});
  
  
  const l2=tx(g,1680,776,'SZ EAP+',26,'start',{textLength:95,lengthAdjust:'spacingAndGlyphs',fill:'#333'});
  
  
  const l3=tx(g,1680,808,'SZ EAP–',26,'start',{textLength:97,lengthAdjust:'spacingAndGlyphs',fill:'#333'});
  
  
})();
</script>
</svg>
</body>
</html>
